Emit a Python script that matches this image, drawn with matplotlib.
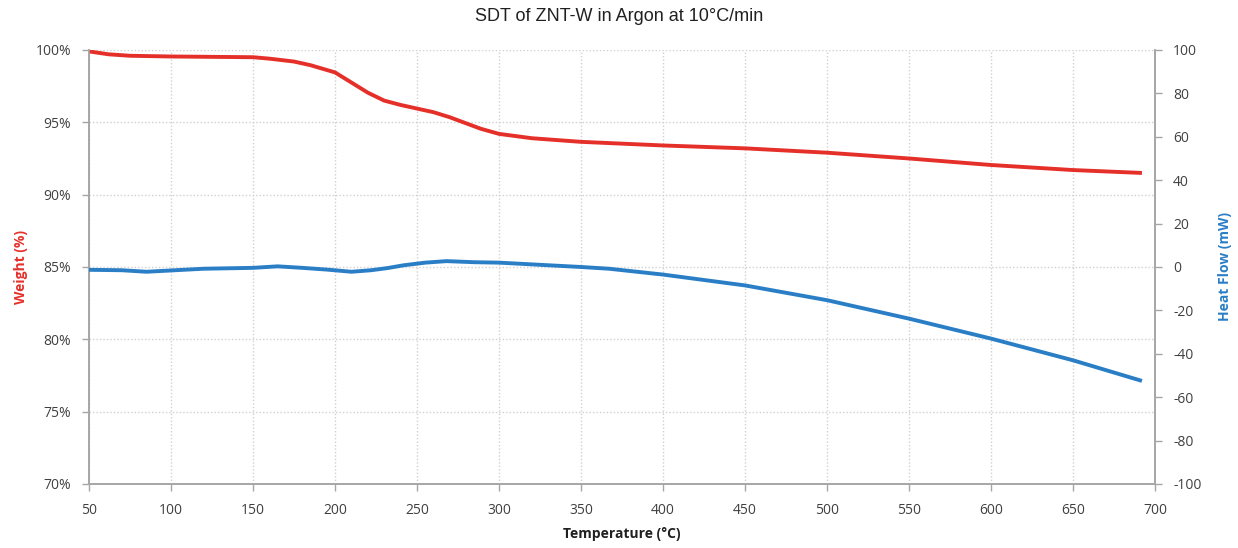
"""SDT of ZNT-W in Argon: weight loss and heat flow vs temperature."""

import matplotlib

matplotlib.use("Agg")
import matplotlib.pyplot as plt
from matplotlib.ticker import FuncFormatter, MultipleLocator

plt.rcParams["axes.unicode_minus"] = False

# weight trace
temp_w = [50, 62, 75, 100, 150, 160, 175, 185, 200, 210, 220, 230, 240, 250,
          260, 270, 283, 289, 300, 320, 350, 400, 450, 500, 550, 600, 650, 692]
weight = [99.9, 99.7, 99.6, 99.55, 99.5, 99.4, 99.2, 98.95, 98.45, 97.75,
          97.05, 96.5, 96.2, 95.95, 95.7, 95.35, 94.8, 94.55, 94.2, 93.9,
          93.65, 93.4, 93.2, 92.9, 92.5, 92.05, 91.7, 91.5]

# heat flow trace
temp_h = [50, 70, 85, 100, 120, 150, 165, 180, 195, 210, 222, 232, 242, 255,
          268, 285, 300, 320, 340, 350, 367, 400, 450, 500, 550, 600, 650, 692]
heat = [-1.3, -1.5, -2.2, -1.6, -0.8, -0.4, 0.3, -0.4, -1.2, -2.2, -1.5,
        -0.5, 0.8, 2.0, 2.7, 2.2, 2.0, 1.2, 0.4, 0.0, -0.8, -3.5, -8.5,
        -15.3, -23.8, -33.0, -43.0, -52.5]

RED = "#e5302a"
BLUE = "#2a7ec6"
GRAY = "#a6a6a6"
TXT = "#404040"

fig = plt.figure(figsize=(12.38, 5.48), dpi=100)
ax = fig.add_axes([0.0719, 0.1168, 0.8611, 0.792])
ax2 = ax.twinx()

ax.plot(temp_w, weight, color=RED, lw=2.8, solid_capstyle="butt", zorder=3)
ax2.plot(temp_h, heat, color=BLUE, lw=2.8, solid_capstyle="butt", zorder=3)

ax.set_xlim(50, 700)
ax.set_ylim(70, 100)
ax2.set_ylim(-100, 100)
ax.xaxis.set_major_locator(MultipleLocator(50))
ax.yaxis.set_major_locator(MultipleLocator(5))
ax2.yaxis.set_major_locator(MultipleLocator(20))
ax.yaxis.set_major_formatter(FuncFormatter(lambda v, _: f"{v:.0f}%"))

ax.grid(True, color="#d0d0d0", linestyle=(0, (1, 1.5)), lw=1.0)
ax.set_axisbelow(True)

for a in (ax, ax2):
    a.spines["top"].set_visible(False)
    for side in ("left", "right", "bottom"):
        a.spines[side].set_color(GRAY)
        a.spines[side].set_linewidth(1.2)
    a.tick_params(colors=GRAY, labelcolor=TXT, labelsize=10, length=5,
                  width=1.0, direction="out")
ax.tick_params(axis="x", pad=9)
ax.tick_params(axis="y", pad=8)
ax2.tick_params(axis="y", pad=8)
for lbl in ax.get_xticklabels() + ax.get_yticklabels() + ax2.get_yticklabels():
    lbl.set_family("Open Sans")

ax.set_xlabel("Temperature (°C)", fontsize=10, fontweight="bold",
              family="Open Sans", color="#202020", labelpad=6)
ax.set_ylabel("Weight (%)", fontsize=10, fontweight="bold",
              family="Open Sans", color=RED, labelpad=5)
ax2.set_ylabel("Heat Flow (mW)", fontsize=10, fontweight="bold",
               family="Open Sans", color=BLUE, labelpad=12)

fig.suptitle("SDT of ZNT-W in Argon at 10°C/min", y=0.985,
             fontsize=13, family="Liberation Sans", color="#202020")

fig.savefig("out.png", dpi=100)
